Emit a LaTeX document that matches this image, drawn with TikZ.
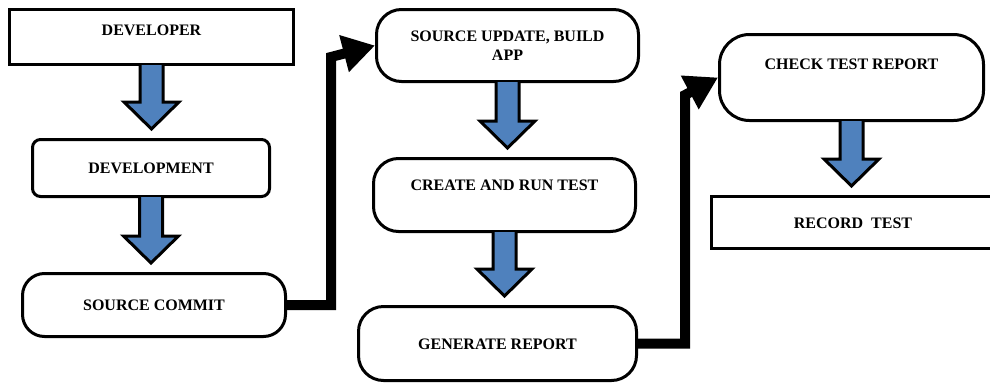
\documentclass[tikz,border=0pt]{standalone}
\usepackage{fontspec}
\setmainfont{Liberation Serif}
\usepackage{xcolor}
\usepackage{tikz}
\usetikzlibrary{arrows.meta, calc}
\definecolor{flowblue}{HTML}{4F81BD}

\newcommand{\blockarrow}[2]{%
  \draw[blk] let \p1=(#1.south), \p2=(#2.north) in
    (\x1-11.5pt,\y1+1pt) -- (\x1-11.5pt,\y2+36pt) -- (\x1-27.5pt,\y2+36pt) -- (\x1,\y2+9pt)
    -- (\x1+27.5pt,\y2+36pt) -- (\x1+11.5pt,\y2+36pt) -- (\x1+11.5pt,\y1+1pt);
}

\begin{document}
\begin{tikzpicture}[
    x=1pt, y=-1pt,
    box/.style={rectangle, draw=black, fill=white, line width=3pt, inner sep=0pt, align=center, font=\fontsize{16}{19}\selectfont\bfseries},
    rbox/.style={box, rounded corners=#1},
    lift/.style={text height=11pt, text depth=#1},
    lift/.default=0pt,
    blk/.style={draw=black, fill=flowblue, line width=3pt, line join=miter},
    conn/.style={draw=black, line width=10pt, line join=miter, -{Triangle[length=32pt, width=36pt]}},
]
\useasboundingbox (0,0) rectangle (990,383);

\node[box, lift=14pt, minimum width=284pt, minimum height=55pt] (dev) at (151.5,37) {DEVELOPER};
\node[rbox=8pt, lift, minimum width=237pt, minimum height=57pt] (devm) at (151,168) {DEVELOPMENT};
\node[rbox=22pt, lift, minimum width=263pt, minimum height=63pt] (sc) at (154,305) {SOURCE COMMIT};
\node[rbox=25pt, minimum width=262pt, minimum height=72pt] (su) at (507.5,45.5) {SOURCE UPDATE, BUILD\\APP};
\node[rbox=25pt, lift=20pt, minimum width=262pt, minimum height=73pt] (cr) at (504.5,195) {CREATE AND RUN TEST};
\node[rbox=25pt, lift, minimum width=278pt, minimum height=74pt] (gr) at (497.5,343.5) {GENERATE REPORT};
\node[rbox=30pt, lift=27pt, minimum width=264pt, minimum height=86pt] (ctr) at (851.5,77.5) {CHECK TEST REPORT};
\node[box, lift, minimum width=283pt, minimum height=52pt] (rt) at (853,222.5) {RECORD~~TEST};

\coordinate (up1) at (331,57);
\coordinate (up2) at (685,95);

\blockarrow{dev}{devm}
\blockarrow{devm}{sc}
\blockarrow{su}{cr}
\blockarrow{cr}{gr}
\blockarrow{ctr}{rt}

\draw[conn] (sc.east) -| (up1) -- (su.west);
\draw[conn] (gr.east) -| (up2) -- (ctr.west);
\end{tikzpicture}
\end{document}
